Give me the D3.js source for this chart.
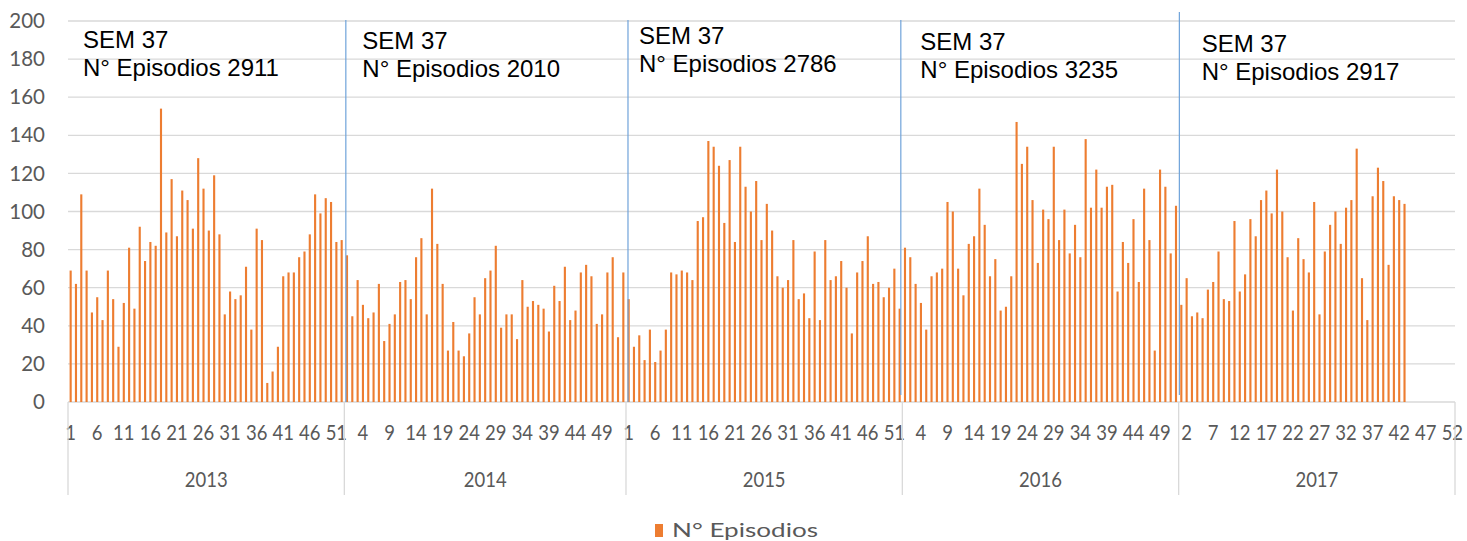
<!DOCTYPE html>
<html>
<head>
<meta charset="utf-8">
<script src="https://cdn.jsdelivr.net/npm/d3@7/dist/d3.min.js"></script>
<style>
  body { margin: 0; background: #fff; }
  svg { display: block; }
</style>
</head>
<body>
<div id="chart"></div>
<script>
// weekly episodes per year
const years = ["2013", "2014", "2015", "2016", "2017"];
const weeksPerYear = [52, 53, 52, 52, 52];
const ep2013 = [69,62,109,69,47,55,43,69,54,29,52,81,49,92,74,84,82,154,89,117,87,111,106,91,128,112,90,119,88,46,58,54,56,71,38,91,85,10,16,29,66,68,68,76,79,88,109,99,107,105,84,85];
const ep2014 = [77,45,64,51,44,47,62,32,41,46,63,64,54,76,86,46,112,83,62,27,42,27,24,36,55,46,65,69,82,39,46,46,33,64,50,53,51,49,37,61,53,71,43,48,68,72,66,41,46,68,76,34,68];
const ep2015 = [54,29,35,22,38,21,27,38,68,67,69,68,64,95,97,137,134,124,94,127,84,134,113,100,116,85,104,90,66,60,64,85,54,57,44,79,43,85,64,66,74,60,36,68,74,87,62,63,55,60,70,49];
const ep2016 = [81,76,62,52,38,66,68,70,105,100,70,56,83,87,112,93,66,75,48,50,66,147,125,134,106,73,101,96,134,85,101,78,93,76,138,102,122,102,113,114,58,84,73,96,63,112,85,27,122,113,78,103];
const ep2017 = [51,65,45,47,44,59,63,79,54,53,95,58,67,96,87,106,111,99,122,100,76,48,86,75,68,105,46,79,93,100,83,102,106,133,65,43,108,123,116,72,108,106,104];
const episodesByYear = [ep2013, ep2014, ep2015, ep2016, ep2017];

// annotation boxes
const semLabels = ["SEM 37", "SEM 37", "SEM 37", "SEM 37", "SEM 37"];
const episodeTotals = [2911, 2010, 2786, 3235, 2917];
const yTicks = [0, 20, 40, 60, 80, 100, 120, 140, 160, 180, 200];
const seriesName = "N° Episodios";

const width = 1467, height = 541;
const margin = {top: 21, right: 12, bottom: 139, left: 68};
const plotBottom = height - margin.bottom;
const orange = "#ED7D31";
const gridColor = "#d9d9d9";
const labelColor = "#595959";
const labelFont = "Lato, 'Open Sans', sans-serif";

// flatten into one category per week
const weeks = [];
years.forEach((yr, i) => {
    for (let w = 1; w <= weeksPerYear[i]; w++) {
        weeks.push({key: yr + "-" + w, year: yr, week: w, value: episodesByYear[i][w - 1]});
    }
});

const svg = d3.select("#chart").append("svg")
    .attr("width", width)
    .attr("height", height);

const xScale = d3.scaleBand()
    .domain(weeks.map(d => d.key))
    .range([margin.left, width - margin.right])
    .paddingInner(0.6)
    .paddingOuter(0.3);

const yScale = d3.scaleLinear()
    .domain([0, 200])
    .range([plotBottom, margin.top]);

const step = xScale.step();
const yearStart = yr => xScale(yr + "-1") - step * 0.3;
const yearEnd = (yr, i) => yearStart(yr) + step * weeksPerYear[i];

// gridlines
svg.append("g")
    .selectAll("line")
    .data(yTicks)
    .join("line")
    .attr("x1", margin.left)
    .attr("x2", width - margin.right)
    .attr("y1", d => yScale(d))
    .attr("y2", d => yScale(d))
    .attr("stroke", gridColor)
    .attr("stroke-width", 1.3);

// y labels
svg.append("g")
    .selectAll("text")
    .data(yTicks)
    .join("text")
    .attr("x", 45)
    .attr("y", d => yScale(d))
    .attr("dy", "0.35em")
    .attr("text-anchor", "end")
    .attr("font-family", labelFont)
    .attr("font-size", "20.5px")
    .attr("fill", labelColor)
    .text(d => d);

// bars
svg.append("g")
    .selectAll("rect")
    .data(weeks.filter(d => d.value !== undefined))
    .join("rect")
    .attr("x", d => xScale(d.key))
    .attr("y", d => yScale(d.value))
    .attr("width", xScale.bandwidth())
    .attr("height", d => plotBottom - yScale(d.value))
    .attr("fill", orange);

// category axis: week labels every 5 categories
svg.append("g")
    .selectAll("text")
    .data(weeks.filter((d, i) => i % 5 === 0))
    .join("text")
    .attr("transform", d => "translate(" + (xScale(d.key) + xScale.bandwidth() / 2) + ",433) scale(0.88,1)")
    .attr("dy", "0.35em")
    .attr("text-anchor", "middle")
    .attr("font-family", labelFont)
    .attr("font-size", "21px")
    .attr("fill", labelColor)
    .text(d => d.week);

// year separators and labels
const sepX = years.map(yr => yearStart(yr)).concat([yearEnd(years[4], 4)]);
svg.append("g")
    .selectAll("line")
    .data(sepX)
    .join("line")
    .attr("x1", d => d).attr("x2", d => d)
    .attr("y1", plotBottom).attr("y2", 495)
    .attr("stroke", gridColor)
    .attr("stroke-width", 1.3);

svg.append("g")
    .selectAll("text")
    .data(years)
    .join("text")
    .attr("transform", (d, i) => "translate(" + ((yearStart(d) + yearEnd(d, i)) / 2) + ",480) scale(0.88,1)")
    .attr("dy", "0.35em")
    .attr("text-anchor", "middle")
    .attr("font-family", labelFont)
    .attr("font-size", "21px")
    .attr("fill", labelColor)
    .text(d => d);

// blue divider lines between years (drawn shapes in the original)
const dividerShift = [1.5, 2, -1.5, 0.7];
const dividerTops = [20, 20, 20, 12];
const dividerBottoms = [402, 402, 395, 395];
svg.append("g")
    .selectAll("line")
    .data(years.slice(1))
    .join("line")
    .attr("x1", (d, i) => yearStart(d) + dividerShift[i])
    .attr("x2", (d, i) => yearStart(d) + dividerShift[i])
    .attr("y1", (d, i) => dividerTops[i])
    .attr("y2", (d, i) => dividerBottoms[i])
    .attr("stroke", "#6FA3DA")
    .attr("stroke-width", 1.2);

// annotation text boxes
const boxDx = [15, 18, 13, 18, 23];
const boxBaseline = [47.5, 48.5, 43.5, 49.5, 51.5];
const notes = svg.append("g")
    .selectAll("text")
    .data(years)
    .join("text")
    .attr("font-family", "'Liberation Sans', Arial, sans-serif")
    .attr("font-size", "24px")
    .attr("fill", "#000");
notes.append("tspan")
    .attr("x", (d, i) => yearStart(d) + boxDx[i])
    .attr("y", (d, i) => boxBaseline[i])
    .text((d, i) => semLabels[i]);
notes.append("tspan")
    .attr("x", (d, i) => yearStart(d) + boxDx[i])
    .attr("y", (d, i) => boxBaseline[i] + 28)
    .text((d, i) => "N° Episodios " + episodeTotals[i]);

// legend
const legend = svg.append("g").attr("transform", "translate(655,530)");
legend.append("rect")
    .attr("x", 0).attr("y", -6)
    .attr("width", 8).attr("height", 13)
    .attr("fill", orange);
legend.append("text")
    .attr("x", 17)
    .attr("dy", "0.35em")
    .attr("font-family", labelFont)
    .attr("font-size", "19px")
    .attr("fill", labelColor)
    .attr("textLength", 146)
    .attr("lengthAdjust", "spacingAndGlyphs")
    .text(seriesName);
</script>
</body>
</html>
